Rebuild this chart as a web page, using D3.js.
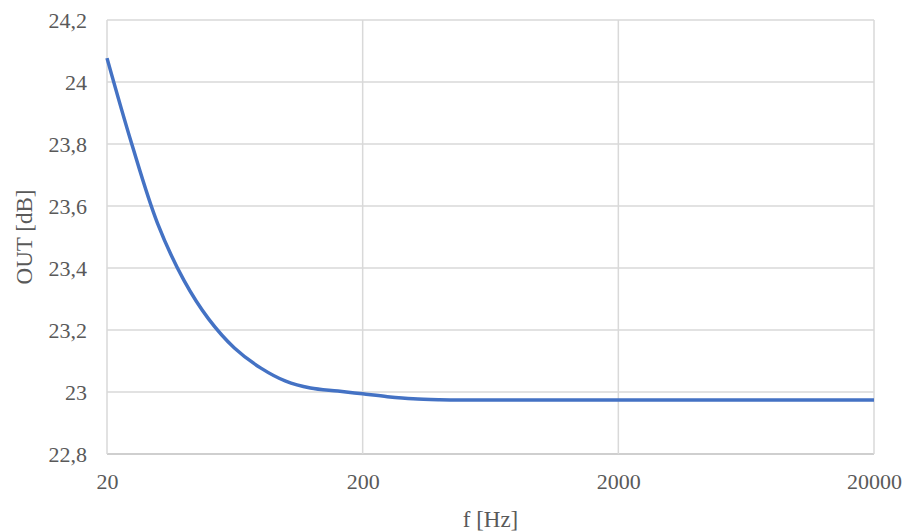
<!DOCTYPE html>
<html><head><meta charset="utf-8">
<script src="https://cdn.jsdelivr.net/npm/d3@7"></script>
<style>body{margin:0;background:#fff}</style>
</head><body><svg id="c" width="907" height="532"></svg>
<script>
const freqs = [20,25,31.5,40,50,63,80,100,125,160,200,250,315,400,500,630,800,1000,1250,1600,2000,2500,3150,4000,5000,6300,8000,10000,12500,16000,20000];
const outDb = [24.077,23.80,23.545,23.36,23.235,23.142,23.077,23.035,23.013,23.003,22.994,22.985,22.978,22.975,22.974,22.974,22.974,22.974,22.974,22.974,22.974,22.974,22.974,22.974,22.974,22.974,22.974,22.974,22.974,22.974,22.974];
const xTicks = [20,200,2000,20000];
const yTicks = [22.8,23,23.2,23.4,23.6,23.8,24,24.2];

const FONT = "Liberation Serif";
const svg = d3.select("#c");
const L=107,R=874,T=20,B=454;
const x = d3.scaleLog().domain([20,20000]).range([L,R]);
const y = d3.scaleLinear().domain([22.8,24.2]).range([B,T]);
const fmt = d => String(+d.toFixed(1)).replace(".",",");

svg.append("g").selectAll("line").data(yTicks).join("line")
  .attr("x1",L).attr("x2",R).attr("y1",d=>y(d)).attr("y2",d=>y(d))
  .attr("stroke",d=>d===22.8?"#bfbfbf":"#d9d9d9").attr("stroke-width",1.5);
svg.append("g").selectAll("line").data(xTicks).join("line")
  .attr("x1",d=>x(d)).attr("x2",d=>x(d)).attr("y1",T).attr("y2",B)
  .attr("stroke","#d9d9d9").attr("stroke-width",1.5);

const yAxis = svg.append("g").attr("transform",`translate(${L},0)`)
  .call(d3.axisLeft(y).tickValues(yTicks).tickFormat(fmt).tickSize(0).tickPadding(20));
yAxis.select(".domain").remove();
yAxis.attr("font-family",FONT).attr("font-size",22);
yAxis.selectAll("text").attr("fill","#595959");

const xAxis = svg.append("g").attr("transform",`translate(0,${B})`)
  .call(d3.axisBottom(x).tickValues(xTicks).tickFormat(d3.format("d")).tickSize(0).tickPadding(19));
xAxis.select(".domain").remove();
xAxis.attr("font-family",FONT).attr("font-size",22);
xAxis.selectAll("text").attr("fill","#595959");

svg.append("path").datum(freqs.map((f,i)=>[f,outDb[i]]))
  .attr("fill","none").attr("stroke","#4472C4").attr("stroke-width",3.5)
  .attr("stroke-linejoin","round")
  .attr("d",d3.line().x(d=>x(d[0])).y(d=>y(d[1])).curve(d3.curveCatmullRom.alpha(0.5)));

svg.append("text").attr("x",(L+R)/2).attr("y",527).attr("text-anchor","middle")
  .attr("font-family",FONT).attr("font-size",23).attr("fill","#595959").text("f [Hz]");
svg.append("text").attr("transform",`translate(32,${(T+B)/2}) rotate(-90)`).attr("text-anchor","middle")
  .attr("font-family",FONT).attr("font-size",23).attr("fill","#595959").text("OUT [dB]");
</script></body></html>
